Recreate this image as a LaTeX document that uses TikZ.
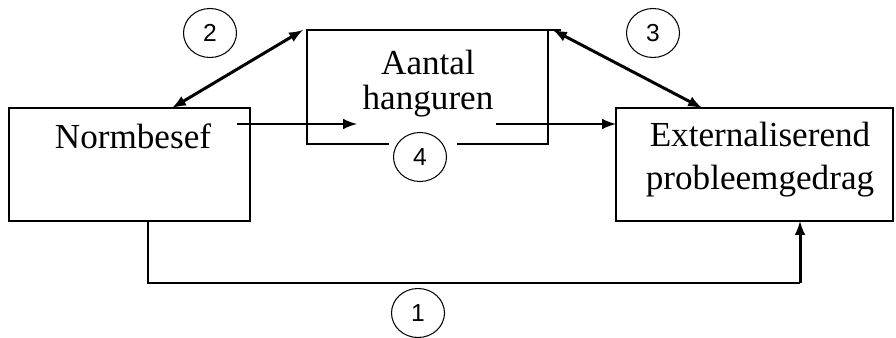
\documentclass[tikz,border=0pt]{standalone}
\usepackage{fontspec}
\setmainfont{Liberation Serif}
\newfontfamily\numfont{Liberation Sans}
\usetikzlibrary{shapes.geometric}

\tikzset{
    box/.style={draw, line width=0.9pt, inner sep=0pt, minimum height=2.26cm},
    lbl/.style={inner sep=0pt, align=center, font=\fontsize{20}{20}\selectfont},
    num/.style={draw, ellipse, line width=0.6pt, inner sep=0pt,
        minimum width=1.06cm, minimum height=0.98cm, font=\numfont\fontsize{14}{14}\selectfont},
    conn/.style={line width=1.7pt, -latex},
    dconn/.style={line width=1.7pt, latex-latex}
}

\begin{document}
\begin{tikzpicture}[x=0.02cm, y=-0.02cm]
        \useasboundingbox (0,0) rectangle (896,338);
        % boxes
        \node [box, minimum width=4.82cm] (norm) at (129.5,164.5) {};
        \node [box, minimum width=5.54cm] (ext) at (754.5,164.5) {};
        \node [lbl] (normlbl) at (133,136) {Normbesef};
        \node [lbl, font=\fontsize{20}{24.4}\selectfont] (extlbl) at (760,160) {Externaliserend\\probleemgedrag};
        \node [lbl] (aantal) at (428,84) {Aantal\\hanguren};
        % numbers
        \node [num] (num2) at (210,33) {2};
        \node [num] (num3) at (653,33) {3};
        \node [num] (num4) at (420,157) {4};
        \node [num] (num1) at (418,313) {1};
        % open box round the mediator
        \coordinate (atl) at (307,30);
        \coordinate (ate) at (561,30);
        \coordinate (atr) at (548,30);
        \coordinate (abr) at (548,144);
        \coordinate (abl) at (307,144);
        \coordinate (ab1) at (389,144);
        \coordinate (ab2) at (457,144);
        \draw [line width=0.9pt] (ate) -- (atl) -- (abl) -- (ab1);
        \draw [line width=0.9pt] (ab2) -- (abr) -- (atr);
        % end points
        \coordinate (a2) at (303,30);
        \coordinate (n2) at (172,108);
        \coordinate (a3) at (553,30);
        \coordinate (e3) at (702,108);
        \coordinate (n4) at (237,124);
        \coordinate (a4) at (357,124);
        \coordinate (a5) at (496,124);
        \coordinate (e4) at (616,124);
        \coordinate (n1) at (148,221);
        \coordinate (e1) at (800,221);
        % paths
        \draw [dconn] (n2) -- (a2);
        \draw [dconn] (a3) -- (e3);
        \draw [conn] (n4) -- (a4);
        \draw [conn] (a5) -- (e4);
        \draw [line width=0.9pt] (n1) -- ++(0,62) -- ++(652,0);
        \draw [conn] (n1) ++(652,62) -- (e1);
    \end{tikzpicture}
\end{document}
